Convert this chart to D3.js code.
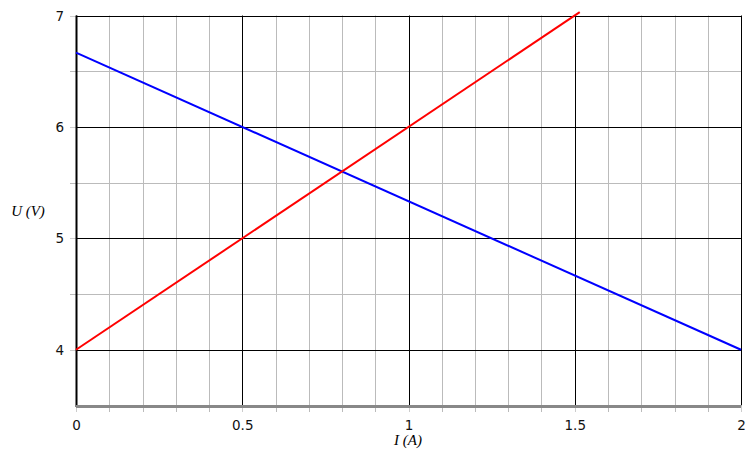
<!DOCTYPE html>
<html><head><meta charset="utf-8">
<script src="https://cdn.jsdelivr.net/npm/d3@7"></script>
<style>body{margin:0;background:#fff}svg{display:block}</style>
</head><body>
<script>
const xTicks = [0, 0.5, 1, 1.5, 2];
const yTicks = [4, 5, 6, 7];
const xMinor = [0.1,0.2,0.3,0.4,0.6,0.7,0.8,0.9,1.1,1.2,1.3,1.4,1.6,1.7,1.8,1.9];
const yMinor = [4.5, 5.5, 6.5];
const redI = [0, 1.515];
const redU = [4, 7.03];
const blueI = [0, 2];
const blueU = [6.667, 4];
const xTitle = "I (A)";
const yTitle = "U (V)";

const W = 752, H = 453;
const svg = d3.select("body").append("svg").attr("width", W).attr("height", H);
const x = d3.scaleLinear().domain([0, 2]).range([76, 741]);
const y = d3.scaleLinear().domain([3.5, 7]).range([405.5, 15.5]);

const g = svg.append("g");
// minor grid
g.selectAll(".vm").data(xMinor).join("line")
  .attr("x1", d => Math.round(x(d)) + 0.5).attr("x2", d => Math.round(x(d)) + 0.5)
  .attr("y1", y(7)).attr("y2", 412).attr("stroke", "#bbb").attr("stroke-width", 1);
g.selectAll(".hm").data(yMinor).join("line")
  .attr("x1", 70).attr("x2", x(2))
  .attr("y1", d => Math.round(y(d)) + 0.5).attr("y2", d => Math.round(y(d)) + 0.5)
  .attr("stroke", "#bbb").attr("stroke-width", 1);
// major grid
g.selectAll(".vM").data(xTicks).join("line")
  .attr("x1", d => Math.round(x(d)) + 0.5).attr("x2", d => Math.round(x(d)) + 0.5)
  .attr("y1", y(7)).attr("y2", y(3.5)).attr("stroke", "#000").attr("stroke-width", 1);
g.selectAll(".vMt").data(xTicks).join("line")
  .attr("x1", d => Math.round(x(d)) + 0.5).attr("x2", d => Math.round(x(d)) + 0.5)
  .attr("y1", y(3.5)).attr("y2", 412).attr("stroke", "#ccc").attr("stroke-width", 1);
g.selectAll(".hM").data(yTicks).join("line")
  .attr("x1", x(0)).attr("x2", x(2))
  .attr("y1", d => Math.round(y(d)) + 0.5).attr("y2", d => Math.round(y(d)) + 0.5)
  .attr("stroke", "#000").attr("stroke-width", 1);
g.selectAll(".hMt").data(yTicks).join("line")
  .attr("x1", 70).attr("x2", x(0))
  .attr("y1", d => Math.round(y(d)) + 0.5).attr("y2", d => Math.round(y(d)) + 0.5)
  .attr("stroke", "#ccc").attr("stroke-width", 1);
// left axis (thicker)
g.append("line").attr("x1", 76.5).attr("x2", 76.5).attr("y1", y(7)).attr("y2", 407)
  .attr("stroke", "#000").attr("stroke-width", 2);
// bottom axis gray
g.append("line").attr("x1", 76).attr("x2", 741).attr("y1", 406.5).attr("y2", 406.5)
  .attr("stroke", "#888").attr("stroke-width", 3);

// series
const line = d3.line().x(d => x(d[0])).y(d => y(d[1]));
svg.append("path").datum(d3.zip(blueI, blueU)).attr("d", line)
  .attr("fill", "none").attr("stroke", "#0000ff").attr("stroke-width", 2);
svg.append("path").datum(d3.zip(redI, redU)).attr("d", line)
  .attr("fill", "none").attr("stroke", "#ff0000").attr("stroke-width", 2);

// tick labels
svg.selectAll(".xl").data(xTicks).join("text")
  .attr("x", d => x(d) + 0.5).attr("y", 430).attr("text-anchor", "middle")
  .attr("font-family", "DejaVu Sans").attr("font-size", 13.5).attr("fill", "#111")
  .text(d => d);
svg.selectAll(".yl").data(yTicks).join("text")
  .attr("x", 64).attr("y", d => y(d) + 5).attr("text-anchor", "end")
  .attr("font-family", "DejaVu Sans").attr("font-size", 13.5).attr("fill", "#111")
  .text(d => d);
// titles
svg.append("text").attr("x", 408).attr("y", 445).attr("text-anchor", "middle")
  .attr("font-family", "Liberation Serif").attr("font-style", "italic").attr("font-size", 15)
  .text(xTitle);
svg.append("text").attr("x", 28).attr("y", 216).attr("text-anchor", "middle")
  .attr("font-family", "Liberation Serif").attr("font-style", "italic").attr("font-size", 15)
  .text(yTitle);
</script>
</body></html>
